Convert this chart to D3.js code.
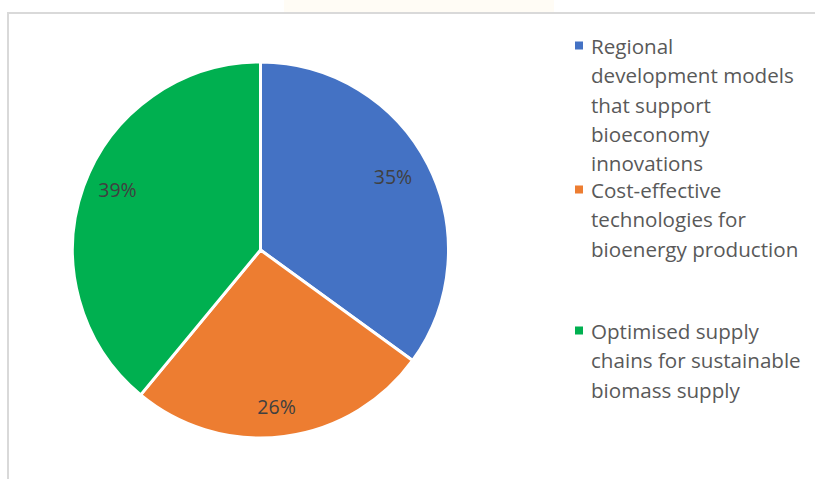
<!DOCTYPE html>
<html>
<head>
<meta charset="utf-8">
<script src="https://cdn.jsdelivr.net/npm/d3@7"></script>
<style>
  html, body { margin: 0; padding: 0; background: #ffffff; }
  svg { display: block; }
</style>
</head>
<body>
<svg id="chart" width="815" height="479"></svg>
<script>
const categories = [
  "Regional development models that support bioeconomy innovations",
  "Cost-effective technologies for bioenergy production",
  "Optimised supply chains for sustainable biomass supply"
];
const legendLines = [
  ["Regional", "development models", "that support", "bioeconomy", "innovations"],
  ["Cost-effective", "technologies for", "bioenergy production"],
  ["Optimised supply", "chains for sustainable", "biomass supply"]
];
const values = [35, 26, 39];
const colors = ["#4472C4", "#ED7D31", "#00B050"];

const svg = d3.select("#chart");
const fontFam = "'Open Sans', 'Noto Sans', sans-serif";

// faint header strip
svg.append("rect").attr("x", 284).attr("y", 0).attr("width", 270).attr("height", 12).attr("fill", "#fffcf5");
// frame lines
svg.append("line").attr("x1", 7).attr("x2", 815).attr("y1", 13).attr("y2", 13)
  .attr("stroke", "#d9d9d9").attr("stroke-width", 2);
svg.append("line").attr("x1", 8).attr("x2", 8).attr("y1", 12).attr("y2", 479)
  .attr("stroke", "#d9d9d9").attr("stroke-width", 2);

const cx = 260.5, cy = 250, R = 188;
const g = svg.append("g").attr("transform", `translate(${cx},${cy})`);
const pie = d3.pie().sort(null).value(d => d)(values);
const arc = d3.arc().innerRadius(0).outerRadius(R);
const labelArc = d3.arc().innerRadius(152).outerRadius(152);
// small nudges to mimic the spreadsheet's label placement
const labelNudge = [[-3, -4], [-3, 6], [0, -9]];

g.selectAll("path").data(pie).join("path")
  .attr("d", arc)
  .attr("fill", (d, i) => colors[i])
  .attr("stroke", "#ffffff")
  .attr("stroke-width", 3)
  .attr("stroke-linejoin", "round");

g.selectAll("text.lbl").data(pie).join("text")
  .attr("class", "lbl")
  .attr("transform", (d, i) => {
    const c = labelArc.centroid(d);
    return `translate(${c[0] + labelNudge[i][0]},${c[1] + labelNudge[i][1]})`;
  })
  .attr("text-anchor", "middle")
  .attr("dominant-baseline", "central")
  .attr("font-family", fontFam)
  .attr("font-size", 19.5)
  .attr("fill", "#404040")
  .text(d => d.data + "%");

// legend
const lineH = 29.3;
const starts = [46, 190, 331];
const lg = svg.append("g");
legendLines.forEach((lines, i) => {
  lg.append("rect").attr("x", 575).attr("y", starts[i] - 4.5).attr("width", 8).attr("height", 8)
    .attr("fill", colors[i]);
  lines.forEach((t, j) => {
    lg.append("text")
      .attr("x", 591).attr("y", starts[i] + j * lineH)
      .attr("dominant-baseline", "central")
      .attr("font-family", fontFam)
      .attr("font-size", 20.6)
      .attr("fill", "#595959")
      .text(t);
  });
});
</script>
</body>
</html>
